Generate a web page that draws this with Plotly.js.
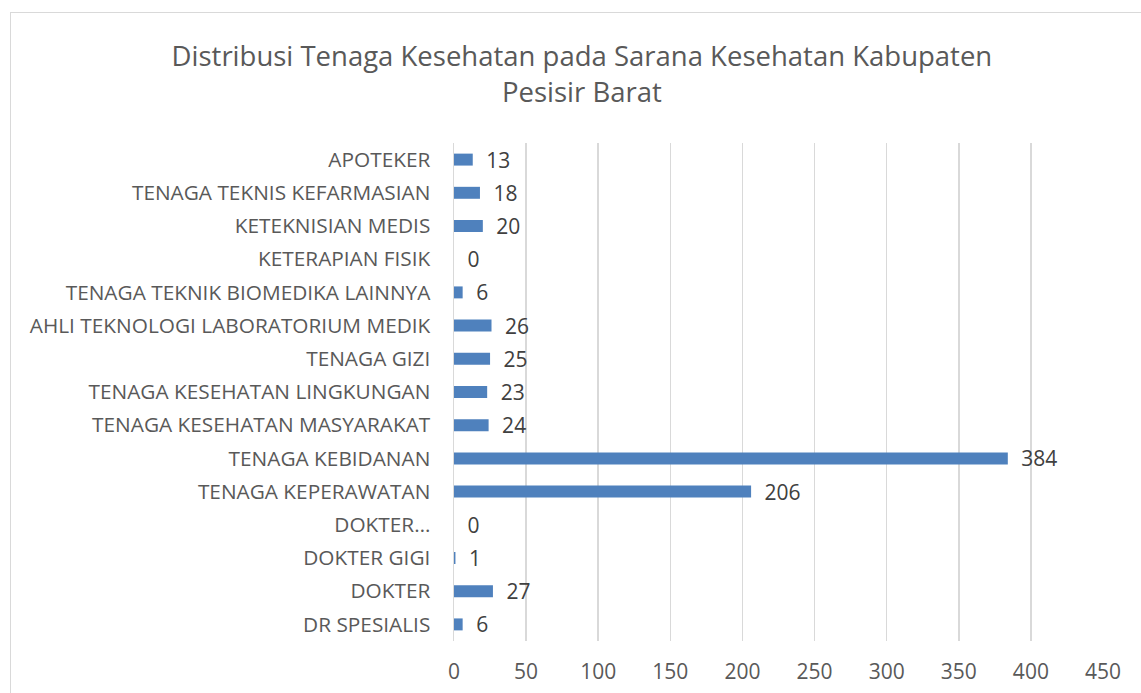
<!DOCTYPE html>
<html>
<head>
<meta charset="utf-8">
<script src="https://cdn.plot.ly/plotly-3.0.1.min.js"></script>
<style>
  html, body { margin: 0; padding: 0; background: #ffffff; overflow: hidden; }
  #frame { position: absolute; left: 10px; top: 12px; width: 1300px; height: 900px; border: 1px solid #d9d9d9; box-sizing: border-box; }
  #chart { position: absolute; left: 0; top: 0; width: 1141px; height: 693px; }
</style>
</head>
<body>
<div id="frame"></div>
<div id="chart"></div>
<script>
const categories = [
  "DR SPESIALIS",
  "DOKTER",
  "DOKTER GIGI",
  "DOKTER…",
  "TENAGA KEPERAWATAN",
  "TENAGA KEBIDANAN",
  "TENAGA KESEHATAN MASYARAKAT",
  "TENAGA KESEHATAN LINGKUNGAN",
  "TENAGA GIZI",
  "AHLI TEKNOLOGI LABORATORIUM MEDIK",
  "TENAGA TEKNIK BIOMEDIKA LAINNYA",
  "KETERAPIAN FISIK",
  "KETEKNISIAN MEDIS",
  "TENAGA TEKNIS KEFARMASIAN",
  "APOTEKER"
];
const values = [6, 27, 1, 0, 206, 384, 24, 23, 25, 26, 6, 0, 20, 18, 13];
const xTicks = [0, 50, 100, 150, 200, 250, 300, 350, 400, 450];
const titleText = "Distribusi Tenaga Kesehatan pada Sarana Kesehatan Kabupaten<br>Pesisir Barat";

const FONT = "Open Sans, Noto Sans, sans-serif";
const GREY = "#595959";

const trace = {
  type: "bar",
  orientation: "h",
  y: categories,
  x: values,
  marker: { color: "#4F81BD", line: { width: 0 } },
  text: values.map(String),
  texttemplate: "\u2002%{text}",
  textposition: "outside",
  constraintext: "none",
  textfont: { family: FONT, size: 21, color: "#404040" },
  cliponaxis: false,
  hoverinfo: "none"
};

const layout = {
  width: 1141,
  height: 693,
  paper_bgcolor: "rgba(0,0,0,0)",
  plot_bgcolor: "rgba(0,0,0,0)",
  margin: { l: 453.5, r: 38.3, t: 143, b: 52, pad: 0 },
  showlegend: false,
  bargap: 0.64,
  title: {
    text: titleText,
    font: { family: FONT, size: 27.5, color: GREY },
    xref: "container", x: 0.51, xanchor: "center",
    yref: "container", y: 0.905, yanchor: "top"
  },
  xaxis: {
    range: [0, 450],
    tickvals: xTicks,
    ticktext: xTicks.map(String),
    showgrid: true,
    gridcolor: "#d9d9d9",
    gridwidth: 1.5,
    zeroline: false,
    showline: false,
    ticks: "",
    ticklabelstandoff: 16,
    tickfont: { family: FONT, size: 21, color: GREY },
    fixedrange: true
  },
  yaxis: {
    type: "category",
    categoryorder: "array",
    categoryarray: categories,
    showline: true,
    linecolor: "#d9d9d9",
    linewidth: 1.5,
    showgrid: false,
    zeroline: false,
    ticks: "",
    ticklabelstandoff: 18,
    tickfont: { family: FONT, size: 20.8, color: GREY },
    fixedrange: true
  }
};

Plotly.newPlot("chart", [trace], layout, { displayModeBar: false, staticPlot: true });
</script>
</body>
</html>
